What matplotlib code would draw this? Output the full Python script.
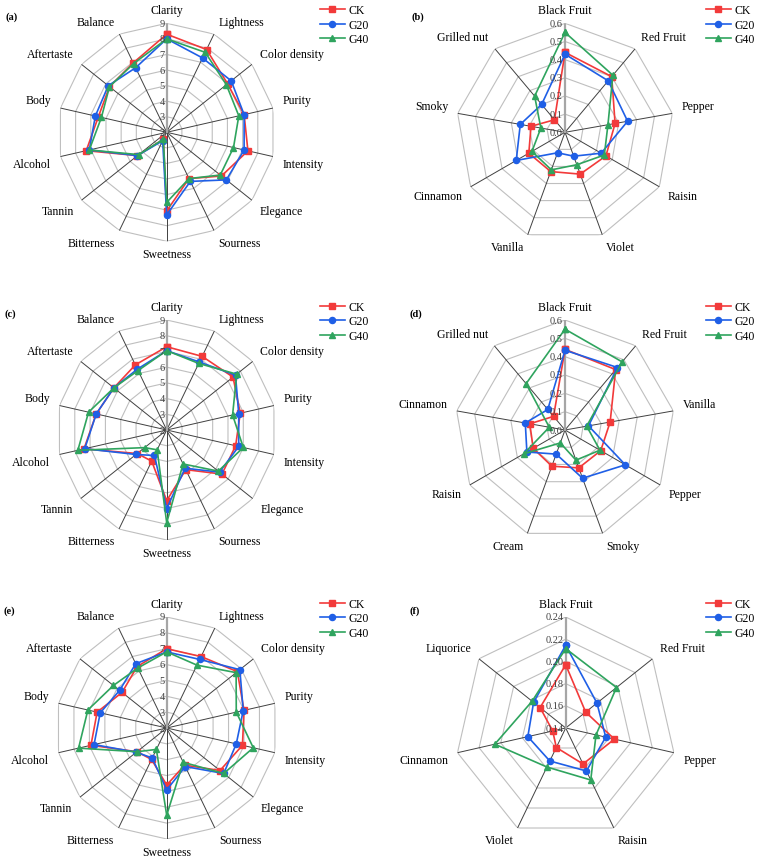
import numpy as np
import matplotlib
matplotlib.use('Agg')
import matplotlib.pyplot as plt
from matplotlib.lines import Line2D

plt.rcParams['font.family'] = ['Liberation Serif', 'DejaVu Serif']

# sensory attributes (panels a, c, e)
sensory = ['Clarity', 'Lightness', 'Color density', 'Purity', 'Intensity', 'Elegance',
           'Sourness', 'Sweetness', 'Bitterness', 'Tannin', 'Alcohol', 'Body',
           'Aftertaste', 'Balance']

a_ck = [8.3, 7.9, 7.0, 7.1, 7.35, 6.5, 5.3, 7.05, 2.5, 4.4, 7.3, 6.5, 6.7, 6.95]
a_g20 = [8.0, 7.3, 7.3, 7.1, 7.1, 6.9, 5.5, 7.3, 2.6, 4.4, 7.1, 6.7, 6.8, 6.6]
a_g40 = [8.0, 7.7, 6.9, 6.75, 6.4, 6.4, 5.3, 6.5, 2.5, 4.3, 7.1, 6.3, 6.7, 6.9]

c_ck = [7.3, 7.2, 7.4, 6.8, 6.5, 6.5, 4.8, 6.5, 4.2, 4.4, 7.4, 6.6, 6.3, 6.6]
c_g20 = [7.05, 6.8, 7.6, 6.7, 6.7, 6.3, 4.7, 7.0, 3.8, 4.5, 7.35, 6.6, 6.3, 6.3]
c_g40 = [7.05, 6.7, 7.7, 6.3, 7.0, 6.2, 4.4, 7.9, 3.4, 3.8, 7.8, 7.1, 6.3, 6.2]

e_ck = [7.0, 7.0, 7.7, 7.0, 6.9, 6.3, 4.6, 5.6, 4.2, 4.4, 6.9, 6.5, 5.6, 6.3]
e_g20 = [6.8, 6.8, 7.9, 6.95, 6.5, 6.6, 4.7, 5.9, 4.1, 4.45, 6.7, 6.3, 5.8, 6.5]
e_g40 = [6.8, 6.4, 7.6, 6.5, 7.6, 6.6, 4.4, 7.5, 3.5, 4.4, 7.7, 7.1, 6.3, 6.2]

# aroma attributes (panels b, d, f)
b_cats = ['Black Fruit', 'Red Fruit', 'Pepper', 'Raisin', 'Violet', 'Vanilla',
          'Cinnamon', 'Smoky', 'Grilled nut']
b_ck = [0.44, 0.40, 0.28, 0.26, 0.245, 0.23, 0.23, 0.19, 0.09]
b_g20 = [0.43, 0.37, 0.35, 0.23, 0.14, 0.12, 0.31, 0.25, 0.20]
b_g40 = [0.55, 0.41, 0.24, 0.25, 0.19, 0.22, 0.21, 0.135, 0.26]

d_cats = ['Black Fruit', 'Red Fruit', 'Vanilla', 'Pepper', 'Smoky', 'Cream',
          'Raisin', 'Cinnamon', 'Grilled nut']
d_ck = [0.44, 0.43, 0.25, 0.225, 0.22, 0.21, 0.20, 0.195, 0.097]
d_g20 = [0.435, 0.445, 0.13, 0.38, 0.28, 0.14, 0.24, 0.22, 0.146]
d_g40 = [0.55, 0.485, 0.12, 0.22, 0.175, 0.075, 0.26, 0.087, 0.33]

f_cats = ['Black Fruit', 'Red Fruit', 'Pepper', 'Raisin', 'Violet', 'Cinnamon', 'Liquorice']
f_ck = [0.197, 0.163, 0.185, 0.176, 0.1595, 0.152, 0.1695]
f_g20 = [0.2145, 0.176, 0.177, 0.183, 0.173, 0.175, 0.177]
f_g40 = [0.2115, 0.1985, 0.168, 0.192, 0.179, 0.2055, 0.1787]

sens_ticks = [2, 3, 4, 5, 6, 7, 8, 9]
aroma_ticks = [0.0, 0.1, 0.2, 0.3, 0.4, 0.5, 0.6]
f_ticks = [0.14, 0.16, 0.18, 0.20, 0.22, 0.24]

groups = ['CK', 'G20', 'G40']
colors = ['#F23A3A', '#1F5FE6', '#2FA45E']
markers = ['s', 'o', '^']

W, H = 758, 862
fig = plt.figure(figsize=(W / 100, H / 100), dpi=100)


def radar(center, R, cats, series, ticks, fmt, panel, leg_x):
    cx, cy = center
    ax = fig.add_axes([(cx - R) / W, 1 - (cy + R) / H, 2 * R / W, 2 * R / H],
                      projection='polar')
    ax.set_theta_zero_location('N')
    ax.set_theta_direction(-1)
    ax.set_ylim(ticks[0], ticks[-1])
    ax.grid(False)
    ax.set_xticks([])
    ax.set_yticks([])
    ax.spines['polar'].set_visible(False)
    ax.set_facecolor('none')

    n = len(cats)
    ang = np.arange(n) * 2 * np.pi / n
    closed = np.append(ang, ang[0])

    # polygon rings
    for t in ticks[1:]:
        ax.plot(closed, [t] * (n + 1), color='#BFBFBF', lw=0.8, zorder=1)
    # spokes
    for a in ang[1:]:
        ax.plot([a, a], [ticks[0], ticks[-1]], color='#404040', lw=0.7, zorder=1)
    ax.plot([0, 0], [ticks[0], ticks[-1]], color='#A6A6A6', lw=1.6, zorder=1)

    for vals, c, m in zip(series, colors, markers):
        ax.plot(closed, list(vals) + [vals[0]], color=c, marker=m, ms=4.4, lw=1.2,
                zorder=3, clip_on=False)

    for t in ticks:
        ax.annotate(fmt.format(t), xy=(0, t), xytext=(-1.5, 0), textcoords='offset points',
                    ha='right', va='center', fontsize=7.5, color='#404040')

    for a, name in zip(ang, cats):
        s, c = np.sin(a), np.cos(a)
        ha = 'left' if s > 0.1 else ('right' if s < -0.1 else 'center')
        va = 'bottom' if c > 0.1 else ('top' if c < -0.1 else 'center')
        ax.annotate(name, xy=(a, ticks[-1]), xytext=(7 * s, 5 * c),
                    textcoords='offset points', ha=ha, va=va, fontsize=8.5)

    fig.text((cx - R - 52) / W if leg_x < 500 else (cx - R - 45) / W, 1 - (cy - R - 7) / H,
             panel, fontsize=7.5, fontweight='bold', va='center')

    handles = [Line2D([], [], color=c, marker=m, ms=4.4, lw=1.2) for c, m in zip(colors, markers)]
    fig.legend(handles, groups, loc='upper left', bbox_to_anchor=(leg_x / W, 1 - (cy - R - 19) / H),
               frameon=False, fontsize=8.5, handlelength=2.1, handletextpad=0.3,
               labelspacing=0.2, borderaxespad=0, borderpad=0)
    return ax


radar((166.7, 133.3), 109, sensory, [a_ck, a_g20, a_g40], sens_ticks, '{:d}', '(a)', 320)
radar((565.0, 133.3), 109, b_cats, [b_ck, b_g20, b_g40], aroma_ticks, '{:.1f}', '(b)', 706)
radar((166.7, 431.0), 110, sensory, [c_ck, c_g20, c_g40], sens_ticks, '{:d}', '(c)', 320)
radar((565.0, 431.0), 110, d_cats, [d_ck, d_g20, d_g40], aroma_ticks, '{:.1f}', '(d)', 706)
radar((166.7, 729.0), 111, sensory, [e_ck, e_g20, e_g40], sens_ticks, '{:d}', '(e)', 320)
radar((565.7, 729.0), 111, f_cats, [f_ck, f_g20, f_g40], f_ticks, '{:.2f}', '(f)', 706)

fig.savefig('out.png', dpi=100)
